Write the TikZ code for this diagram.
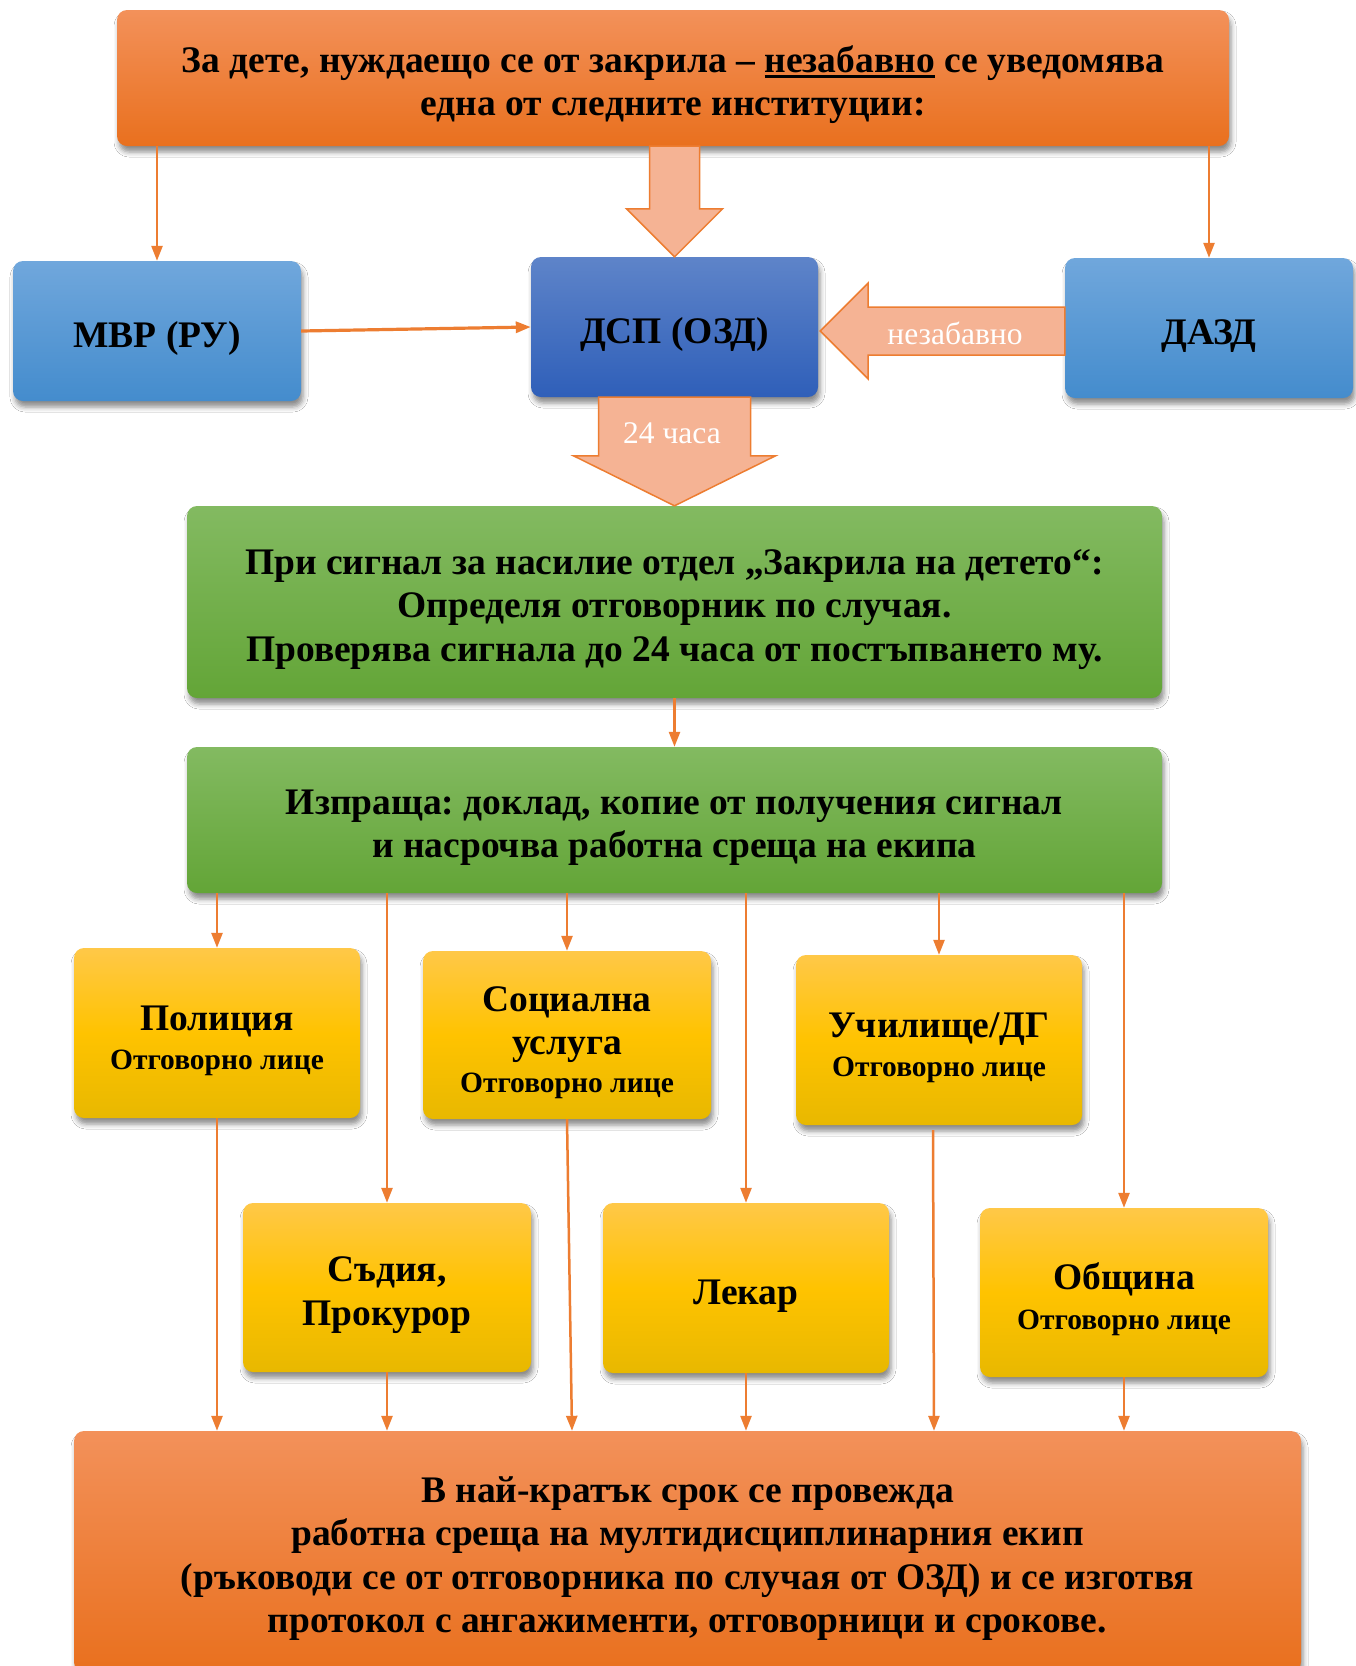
\documentclass[tikz,border=0pt]{standalone}
\usepackage{fontspec}
\setmainfont{Liberation Serif}
\usetikzlibrary{calc,arrows.meta,shadows.blur}
\frenchspacing
\definecolor{orTop}{RGB}{243,145,90}
\definecolor{orBot}{RGB}{233,112,30}
\definecolor{blTop}{RGB}{112,167,220}
\definecolor{blBot}{RGB}{68,140,205}
\definecolor{dbTop}{RGB}{94,132,201}
\definecolor{dbBot}{RGB}{47,95,185}
\definecolor{grTop}{RGB}{131,186,97}
\definecolor{grBot}{RGB}{99,165,55}
\definecolor{yeTop}{RGB}{255,200,72}
\definecolor{yeMid}{RGB}{255,195,0}
\definecolor{yeBot}{RGB}{232,184,0}
\definecolor{arr}{RGB}{237,125,49}
\definecolor{salmon}{RGB}{245,179,148}
\newcommand\bigf{\fontsize{37.5}{43.5}\selectfont\bfseries\frenchspacing}
\newcommand\smallf{\fontsize{29.5}{36}\selectfont\bfseries}
\newcommand\tstrut{\rule{0pt}{40pt}}
\newcommand\myul[1]{\setbox0\hbox{#1}\rlap{\rule[-6pt]{\wd0}{2.8pt}}\box0\relax}
\tikzset{
  box/.style={rounded corners=10pt, inner sep=0pt, align=center, text=black, font=\bigf,
    blur shadow={shadow xshift=2pt, shadow yshift=-6pt, shadow blur radius=5pt, shadow opacity=45}},
  orbox/.style={box, top color=orTop, bottom color=orBot},
  blbox/.style={box, top color=blTop, bottom color=blBot},
  dbbox/.style={box, top color=dbTop, bottom color=dbBot},
  grbox/.style={box, top color=grTop, bottom color=grBot},
  yebox/.style={box, top color=yeTop, bottom color=yeBot, middle color=yeMid},
  thin/.style={draw=arr, line width=2.5pt, -{Triangle[length=15pt,width=11pt]}},
  blockarr/.style={fill=salmon, draw=arr, line width=1.5pt, line join=miter},
  arrlabel/.style={text=white, font=\fontsize{31.5}{34}\selectfont, inner sep=0pt}
}
\begin{document}
\begin{tikzpicture}[x=1pt,y=-1pt]
\useasboundingbox[fill=white] (0,0) rectangle (1356,1666);
% boxes
\node[orbox, minimum width=1112pt, minimum height=136pt] (top) at (673,78)
  {\tstrut За дете, нуждаещо се от закрила – \myul{незабавно} се уведомява\\една от следните институции:};
\node[blbox, minimum width=288pt, minimum height=140pt] (mvr) at (157,331) {\tstrut МВР (РУ)};
\node[dbbox, minimum width=287pt, minimum height=140pt] (dsp) at (674.5,327) {\tstrut ДСП (ОЗД)};
\node[blbox, minimum width=288pt, minimum height=140pt] (dazd) at (1209,328) {\tstrut ДАЗД};
\node[grbox, minimum width=975pt, minimum height=192pt] (g1) at (674.5,602)
  {\tstrut При сигнал за насилие отдел „Закрила на детето“:\\Определя отговорник по случая.\\Проверява сигнала до 24 часа от постъпването му.};
\node[grbox, minimum width=975pt, minimum height=146pt] (g2) at (674.5,820)
  {\tstrut Изпраща: доклад, копие от получения сигнал\\и насрочва работна среща на екипа};
\node[yebox, minimum width=286pt, minimum height=170pt] (pol) at (217,1033)
  {\tstrut Полиция\\[-5pt]{\smallf Отговорно лице}};
\node[yebox, minimum width=288pt, minimum height=168pt] (soc) at (567,1035)
  {\tstrut Социална\\услуга\\[-6pt]{\smallf Отговорно лице}};
\node[yebox, minimum width=286pt, minimum height=170pt] (uch) at (939,1040)
  {\tstrut Училище/ДГ\\[-5pt]{\smallf Отговорно лице}};
\node[yebox, minimum width=288pt, minimum height=169pt] (sad) at (387,1287.5)
  {\tstrut Съдия,\\Прокурор};
\node[yebox, minimum width=286pt, minimum height=170pt] (lek) at (746,1288) {\tstrut Лекар};
\node[yebox, minimum width=288pt, minimum height=169pt] (obs) at (1124,1292.5)
  {\tstrut Община\\[-4pt]{\smallf Отговорно лице}};
\node[orbox, minimum width=1227pt, minimum height=241pt] (bot) at (687.5,1551.5)
  {\tstrut В най-кратък срок се провежда\\работна среща на мултидисциплинарния екип\\(ръководи се от отговорника по случая от ОЗД) и се изготвя\\протокол с ангажименти, отговорници и срокове.};
% block arrows
\path[blockarr] ($(dsp.north |- top.south)+(-25,0)$) -- ($(dsp.north)+(-25,-48)$) -- ($(dsp.north)+(-48,-48)$)
  -- (dsp.north) -- ($(dsp.north)+(48,-48)$) -- ($(dsp.north)+(25,-48)$) -- ($(dsp.north |- top.south)+(25,0)$) -- cycle;
\path[blockarr] ($(g1.north |- dsp.south)+(-76,0)$) -- ($(g1.north)+(-76,-50)$) -- ($(g1.north)+(-101,-50)$)
  -- (g1.north) -- ($(g1.north)+(101,-50)$) -- ($(g1.north)+(76,-50)$) -- ($(g1.north |- dsp.south)+(76,0)$) -- cycle;
\coordinate (tipL) at ($(dsp.east |- dazd.west)+(2,3)$);
\path[blockarr] ($(dazd.west)+(0,-21)$) -- ($(tipL)+(48,-24)$) -- ($(tipL)+(48,-48)$) -- (tipL)
  -- ($(tipL)+(48,48)$) -- ($(tipL)+(48,24)$) -- ($(dazd.west)+(0,27)$) -- cycle;
\node[arrlabel] (lblA) at (955,333) {незабавно};
\node[arrlabel] (lblB) at (672,433) {24 часа};
% thin arrows
\draw[thin] (top.south -| mvr.north) -- (mvr.north);
\draw[thin] (top.south -| dazd.north) -- (dazd.north);
\draw[thin, line width=3.2pt] (mvr.east) -- (dsp.west);
\draw[thin] (g1.south) -- (g2.north);
\foreach \n in {pol,sad,soc,lek,uch,obs} {
  \draw[thin] (g2.south -| \n.north) -- (\n.north);
}
\coordinate (b1) at (bot.north -| pol.south);
\coordinate (b2) at (bot.north -| sad.south);
\coordinate (b3) at ($(bot.north -| soc.south)+(5,0)$);
\coordinate (b4) at (bot.north -| lek.south);
\coordinate (b5) at ($(bot.north -| uch.south)+(-5,0)$);
\coordinate (b6) at (bot.north -| obs.south);
\draw[thin] (pol.south) -- (b1);
\draw[thin] (sad.south) -- (b2);
\draw[thin] (soc.south) -- (b3);
\draw[thin] (lek.south) -- (b4);
\draw[thin] ($(uch.south)+(-6,5)$) -- (b5);
\draw[thin] (obs.south) -- (b6);
\end{tikzpicture}
\end{document}
